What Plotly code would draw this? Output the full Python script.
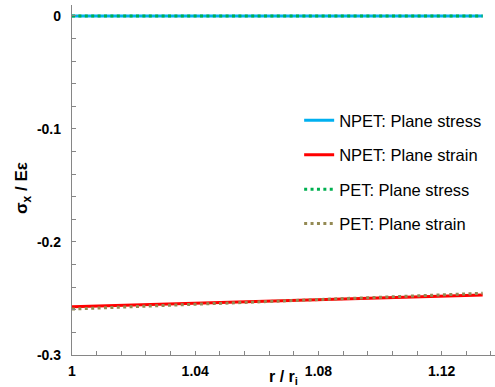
import plotly.graph_objects as go

# Normalised radius r / r_i
r_ratio = [1.0, 1.0133, 1.0267, 1.04, 1.0533, 1.0667, 1.08, 1.0933, 1.1067, 1.12, 1.1333]

# Normalised hoop stress sigma_x / (E*eps) for each model
npet_plane_stress = [0.0, 0.0, 0.0, 0.0, 0.0, 0.0, 0.0, 0.0, 0.0, 0.0, 0.0]
npet_plane_strain = [-0.2573, -0.2563, -0.2552, -0.2542, -0.2531, -0.2521,
                     -0.2510, -0.2500, -0.2490, -0.2479, -0.2469]
pet_plane_stress = [0.0, 0.0, 0.0, 0.0, 0.0, 0.0, 0.0, 0.0, 0.0, 0.0, 0.0]
pet_plane_strain = [-0.2593, -0.2579, -0.2565, -0.2551, -0.2537, -0.2524,
                    -0.2510, -0.2496, -0.2482, -0.2468, -0.2454]

x_ticks = [1.0, 1.04, 1.08, 1.12]
x_tick_text = ["1", "1.04", "1.08", "1.12"]
y_ticks = [0.0, -0.1, -0.2, -0.3]
y_tick_text = ["0", "-0.1", "-0.2", "-0.3"]

FONT = "Arial, Liberation Sans, sans-serif"
AXIS_GREY = "#868686"

series = [
    ("NPET: Plane stress", npet_plane_stress, "#00B0F0", "solid", 3),
    ("NPET: Plane strain", npet_plane_strain, "#FF0000", "solid", 3),
    ("PET: Plane stress", pet_plane_stress, "#00B050", "3px,3.4px", 3),
    ("PET: Plane strain", pet_plane_strain, "#948A54", "3px,3.4px", 3),
]

fig = go.Figure()
for i, (name, vals, color, dash, width) in enumerate(series):
    fig.add_trace(go.Scatter(
        x=r_ratio, y=vals, name=name, mode="lines",
        legendgroup=f"g{i}",
        line=dict(color=color, dash=dash, width=width),
    ))

fig.update_layout(
    width=495, height=387,
    margin=dict(l=72, r=0, t=5, b=32),
    paper_bgcolor="white", plot_bgcolor="white",
    font=dict(family=FONT, color="black"),
    showlegend=True,
    legend=dict(
        x=0.537, xanchor="left", y=0.72, yanchor="top",
        font=dict(size=16.5, family=FONT, color="black"),
        bgcolor="rgba(0,0,0,0)", borderwidth=0,
        tracegroupgap=10, traceorder="grouped",
    ),
)

fig.update_xaxes(
    range=[1.0, 1.1373],
    automargin=False,
    tickmode="array", tickvals=x_ticks, ticktext=x_tick_text,
    tickfont=dict(size=14, family=FONT, color="black", weight="bold"),
    ticklabelstandoff=3,
    ticks="inside", ticklen=4, tickcolor=AXIS_GREY, tickwidth=1,
    minor=dict(dtick=0.008, tick0=1.0, ticks="inside", ticklen=4,
               tickcolor=AXIS_GREY, showgrid=False),
    showline=True, linecolor=AXIS_GREY, linewidth=1.3,
    showgrid=False, zeroline=False,
    title=dict(text="<b>r / r<sub>i</sub></b>",
               font=dict(size=16, family=FONT, color="black")),
)

fig.update_yaxes(
    range=[-0.3, 0.0097],
    automargin=False,
    tickmode="array", tickvals=y_ticks, ticktext=y_tick_text,
    tickfont=dict(size=14, family=FONT, color="black", weight="bold"),
    ticklabelstandoff=7,
    ticks="inside", ticklen=4, tickcolor=AXIS_GREY, tickwidth=1,
    minor=dict(dtick=0.02, tick0=0.0, ticks="inside", ticklen=4,
               tickcolor=AXIS_GREY, showgrid=False),
    showline=True, linecolor=AXIS_GREY, linewidth=1.3,
    showgrid=False, zeroline=False,
)

# Vertical axis title, placed just left of the tick labels
fig.add_annotation(
    text="<b>σ<sub>x</sub> / Eε</b>",
    xref="paper", yref="paper", x=0, y=0.477,
    xanchor="center", yanchor="middle", xshift=-49,
    textangle=-90, showarrow=False,
    font=dict(size=17, family=FONT, color="black"),
)

fig.write_html("out.html")
